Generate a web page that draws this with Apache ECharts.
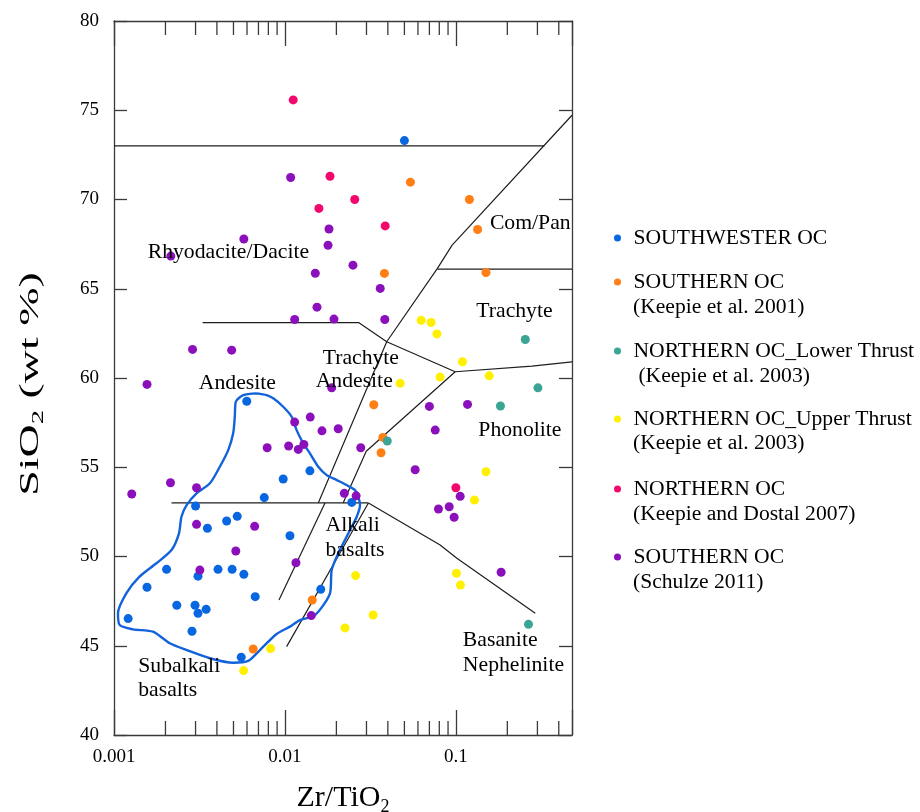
<!DOCTYPE html>
<html><head><meta charset="utf-8">
<script src="https://cdn.jsdelivr.net/npm/echarts@6/dist/echarts.min.js"></script>
<style>html,body{margin:0;padding:0;background:#fff}#c{width:920px;height:812px}</style>
</head><body><div id="c"></div>
<script>
const FONT = '"Liberation Serif","Times New Roman",serif';

// ---- axis ticks ----
const xTickLabels = ['0.001', '0.01', '0.1'];
const xMinorTicks = [0.002,0.003,0.004,0.005,0.006,0.007,0.008,0.009,
                     0.02,0.03,0.04,0.05,0.06,0.07,0.08,0.09,
                     0.2,0.3,0.4];
const yTickLabels = ['40','45','50','55','60','65','70','75','80'];

// ---- series names ----
const seriesNames = [
  'SOUTHWESTER OC',
  'SOUTHERN OC\n(Keepie et al. 2001)',
  'NORTHERN OC_Lower Thrust\n (Keepie et al. 2003)',
  'NORTHERN OC_Upper Thrust\n(Keepie et al. 2003)',
  'NORTHERN OC\n(Keepie and Dostal 2007)',
  'SOUTHERN OC\n(Schulze 2011)'
];
const seriesColors = ['#0866e0', '#ff7f14', '#3aa594', '#fff000', '#f2086c', '#8b10bc'];

// ---- data: [Zr/TiO2, SiO2] ----
const southwester = [[0.05,73.3],[0.00598,58.7],[0.0140,54.8],[0.00977,54.34],[0.00757,53.3],[0.0030,52.83],
  [0.0246,53.03],[0.00526,52.25],[0.00456,51.99],[0.00352,51.58],[0.0107,51.16],[0.00203,49.28],[0.0031,48.9],
  [0.00406,49.28],[0.00491,49.28],[0.00575,49.0],[0.00156,48.28],[0.0067,47.75],[0.00233,47.27],[0.00298,47.27],
  [0.0031,46.82],[0.00346,47.04],[0.00121,46.52],[0.00286,45.81],[0.00555,44.36],[0.0162,48.16]];
const southernKeepie = [[0.0542,70.97],[0.120,70.0],[0.134,68.32],[0.0382,65.86],[0.150,65.91],[0.0331,58.5],
  [0.0374,56.67],[0.0365,55.81],[0.01445,47.56],[0.00652,44.82]];
const northernLower = [[0.2547,62.16],[0.302,59.45],[0.1823,58.43],[0.0397,56.47],[0.266,46.2]];
const northernUpper = [[0.0627,63.23],[0.0716,63.11],[0.0775,62.47],[0.1093,60.91],[0.0809,60.05],[0.1567,60.12],
  [0.0472,59.7],[0.150,54.75],[0.1285,53.16],[0.0259,48.93],[0.1008,49.06],[0.1064,48.4],[0.0328,46.72],
  [0.02246,46.0],[0.00824,44.84],[0.00573,43.61]];
const northernDostal = [[0.01118,75.58],[0.01835,71.3],[0.0256,70.0],[0.0158,69.5],[0.0386,68.52],[0.1,53.85]];
const southernSchulze = [[0.0108,71.23],[0.00575,67.79],[0.00215,66.83],[0.0181,68.35],[0.01787,67.44],[0.025,66.32],
  [0.01505,65.87],[0.0361,65.02],[0.0154,63.97],[0.0114,63.28],[0.01936,63.3],[0.0384,63.28],[0.00288,61.6],
  [0.00488,61.56],[0.00156,59.64],[0.01877,59.45],[0.070,58.41],[0.117,58.52],[0.0757,57.08],[0.0114,57.53],
  [0.01406,57.81],[0.01647,57.04],[0.0205,57.16],[0.00787,56.09],[0.01051,56.19],[0.01197,56.0],[0.0129,56.28],
  [0.02777,56.09],[0.0578,54.86],[0.00214,54.13],[0.00127,53.5],[0.00304,53.85],[0.02225,53.54],[0.0261,53.4],
  [0.106,53.37],[0.0791,52.66],[0.0914,52.79],[0.0977,52.2],[0.00304,51.8],[0.00665,51.69],[0.00516,50.31],
  [0.0116,49.65],[0.184,49.12],[0.00318,49.24],[0.01426,46.69]];

// ---- outline of the SOUTHWESTER field ----
const outline = [[0.00683,59.14],[0.00781,59.04],[0.00854,58.86],[0.00977,58.39],[0.01095,57.83],[0.0117,57.08],
  [0.0128,56.34],[0.0140,55.78],[0.01567,55.03],[0.01755,54.56],[0.0201,54.28],[0.0235,53.95],[0.0257,53.72],
  [0.0269,53.33],[0.0275,52.88],[0.0263,52.23],[0.0235,51.3],[0.0205,50.18],[0.01877,49.24],[0.01835,47.94],
  [0.015,46.72],[0.01224,46.44],[0.0107,46.07],[0.00894,45.66],[0.00714,44.76],[0.0061,44.15],[0.00498,44.05],
  [0.00364,44.3],[0.00266,44.76],[0.00212,45.14],[0.00169,45.79],[0.00129,45.92],[0.00108,46.16],[0.001055,46.82],
  [0.00118,47.94],[0.00141,48.87],[0.00177,49.62],[0.00217,50.36],[0.0024,51.3],[0.00248,52.23],[0.00266,52.88],
  [0.00304,53.54],[0.00364,54.1],[0.00416,55.03],[0.00466,55.96],[0.00498,56.9],[0.00509,57.83],[0.00516,58.67],
  [0.0057,59.04],[0.00683,59.14]];

// ---- classification boundaries ----
const boundaries = [
  [[0.001,73],[0.329,73]],
  [[0.478,74.72],[0.0951,67.44],[0.078,66.14],[0.0394,62.03],[0.01567,53.0]],
  [[0.078,66.1],[0.478,66.1]],
  [[0.0033,63.1],[0.0271,63.1],[0.0394,62.03],[0.0991,60.35],[0.2786,60.67],[0.478,60.9]],
  [[0.0991,60.35],[0.0299,55.9],[0.0219,53.0]],
  [[0.00217,53],[0.0308,53]],
  [[0.0308,53],[0.0809,50.64],[0.1014,49.9],[0.2914,46.82]],
  [[0.01715,53],[0.00923,47.56]],
  [[0.0308,53],[0.01023,44.95]]
];

// ---- field names ----
const fieldCenterText = ['Com/Pan','Rhyodacite/Dacite','Trachyte','Trachyte','Andesite','Andesite','Phonolite'];
const fieldCenterPos = [[0.2724,68.67],[0.00467,67.05],[0.2202,63.71],[0.0278,61.1],[0.02543,59.79],[0.00527,59.7],[0.237,57.08]];
const fieldLeftText = ['Alkali','basalts','Subalkali','basalts','Basanite','Nephelinite'];
const fieldLeftPos = [[0.01727,51.76],[0.01727,50.36],[0.001386,43.83],[0.001386,42.53],[0.1099,45.32],[0.1099,43.92]];

const seriesData = [southwester, southernKeepie, northernLower, northernUpper, northernDostal, southernSchulze];

const chart = echarts.init(document.getElementById('c'), null, {renderer: 'canvas'});

const axisColor = '#3a3a3a';
const series = [];
boundaries.forEach((b, i) => series.push({
  type: 'line', name: 'b' + i, data: b, symbol: 'none', silent: true, z: 2,
  lineStyle: {color: '#1e1e1e', width: 1.2}, animation: false
}));
series.push({
  type: 'line', name: 'outline', data: outline, symbol: 'none', silent: true, z: 3, smooth: 0.25,
  lineStyle: {color: '#1262dc', width: 2.4}, animation: false
});
series.push({
  type: 'custom', name: 'minorTicks', silent: true, z: 4, animation: false,
  data: xMinorTicks.map(v => [v, 40]),
  renderItem: (params, api) => {
    const v = api.value(0);
    const b = api.coord([v, 40]);
    const t = api.coord([v, 80]);
    const st = {stroke: axisColor, lineWidth: 1.3};
    return {type: 'group', children: [
      {type: 'line', shape: {x1: b[0], y1: b[1], x2: b[0], y2: b[1] - 14}, style: st},
      {type: 'line', shape: {x1: t[0], y1: t[1], x2: t[0], y2: t[1] + 14}, style: st}
    ]};
  }
});
seriesNames.forEach((n, i) => series.push({
  type: 'scatter', name: n, data: seriesData[i], symbol: 'circle', symbolSize: 9, z: 5,
  itemStyle: {color: seriesColors[i], opacity: 1}, animation: false
}));
const labelStyle = {show: true, formatter: '{b}', fontFamily: FONT, fontSize: 21.7, color: '#000', opacity: 1,
  textBorderWidth: 0, textBorderColor: 'transparent', textShadowBlur: 0};
series.push({
  type: 'scatter', name: 'fieldsC', symbolSize: 0, silent: true, z: 6, animation: false,
  itemStyle: {color: '#000', opacity: 1},
  data: fieldCenterText.map((t, i) => ({name: t, value: fieldCenterPos[i]})),
  label: Object.assign({position: 'inside', align: 'center', verticalAlign: 'middle'}, labelStyle)
});
series.push({
  type: 'scatter', name: 'fieldsL', symbolSize: 0, silent: true, z: 6, animation: false,
  itemStyle: {color: '#000', opacity: 1},
  data: fieldLeftText.map((t, i) => ({name: t, value: fieldLeftPos[i]})),
  label: Object.assign({position: 'inside', align: 'left', verticalAlign: 'middle'}, labelStyle)
});

// legends: one per entry so the dot sits on the first text line
const legendCenters = [238, 282, 351, 419, 489, 557];
const legends = seriesNames.map((n, i) => ({
  data: [{name: n, icon: 'circle'}], orient: 'vertical', left: 614, top: legendCenters[i] - 11,
  padding: 0, itemWidth: 22, itemHeight: 7, selectedMode: true,
  formatter: name => name.split('\n')[0],
  textStyle: {fontFamily: FONT, fontSize: 21.6, color: '#000', lineHeight: 22}
}));
const secondLineY = [307, 376, 443, 514, 582];
const graphics = [];
seriesNames.slice(1).forEach((n, i) => graphics.push({
  type: 'text', x: 633, y: secondLineY[i], silent: true,
  style: {text: n.split('\n')[1], font: '21.6px ' + FONT, fill: '#000', verticalAlign: 'middle', align: 'left'}
}));
// y axis title (the reference draws it stretched along its length)
graphics.push({
  type: 'text', x: 31, y: 384, rotation: Math.PI / 2, scaleX: 1.7, scaleY: 1, silent: true,
  style: {text: 'SiO{sub|2} (wt %)', font: '27px ' + FONT, fill: '#000', align: 'center', verticalAlign: 'middle',
    rich: {sub: {font: '17px ' + FONT, fill: '#000', padding: [16, 0, 0, 0], verticalAlign: 'bottom'}}}
});

const xLabelFmt = v => {
  for (const s of xTickLabels) { if (Math.abs(Number(s) - v) / Number(s) < 1e-6) return s; }
  return '';
};
const nameRich = {sub: {fontFamily: FONT, fontSize: 18, padding: [18, 0, 0, 0], verticalAlign: 'bottom', color: '#000'}};
const xAxisBase = {
  type: 'log', logBase: 10, min: 0.001, max: 0.478,
  axisLine: {show: true, lineStyle: {color: axisColor, width: 1.3}},
  axisTick: {show: true, inside: true, length: 25, lineStyle: {color: axisColor, width: 1.3}},
  splitLine: {show: false}, minorTick: {show: false}
};
const yAxisBase = {
  type: 'value', min: 40, max: 80, interval: 5,
  axisLine: {show: true, lineStyle: {color: axisColor, width: 1.3}},
  axisTick: {show: true, inside: true, length: 13, lineStyle: {color: axisColor, width: 1.3}},
  splitLine: {show: false}
};

chart.setOption({
  backgroundColor: '#fff',
  animation: false,
  grid: {left: 114, right: 348, top: 21, bottom: 77, containLabel: false, outerBoundsMode: 'none'},
  xAxis: [
    Object.assign({}, xAxisBase, {
      position: 'bottom',
      axisLabel: {formatter: xLabelFmt, fontFamily: FONT, fontSize: 19, color: '#000', margin: 13},
      name: 'Zr/TiO{sub|2}', nameLocation: 'middle', nameGap: 45,
      nameTextStyle: {fontFamily: FONT, fontSize: 30, color: '#000', rich: nameRich}
    }),
    Object.assign({}, xAxisBase, {position: 'top', axisLabel: {show: false}})
  ],
  yAxis: [
    Object.assign({}, yAxisBase, {
      position: 'left',
      axisLabel: {fontFamily: FONT, fontSize: 19, color: '#000', margin: 15,
                  formatter: v => yTickLabels[Math.round((v - 40) / 5)]}
    }),
    Object.assign({}, yAxisBase, {position: 'right', axisLabel: {show: false}})
  ],
  legend: legends,
  graphic: graphics,
  series: series
});
</script></body></html>
